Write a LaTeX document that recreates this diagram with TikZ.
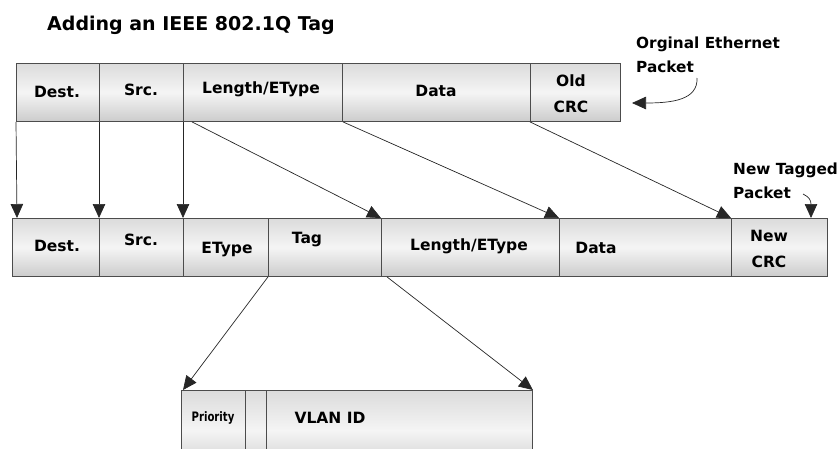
\documentclass[tikz,border=0pt]{standalone}
\usepackage{fontspec}
\setmainfont{DejaVu Sans}
\usetikzlibrary{arrows.meta}
\tikzset{
  cell/.style={draw=black!70, line width=0.9pt, rectangle, inner sep=0pt, anchor=north west,
    top color=black!14, bottom color=black!20, middle color=black!4, shading angle=0},
  lbl/.style={font=\bfseries\fontsize{15.5}{26}\selectfont, inner sep=0pt, text=black},
  small/.style={font=\bfseries\fontsize{13}{15}\selectfont, inner sep=0pt, text=black, xscale=0.78, transform shape},
  conn/.style={draw=black!85, line width=0.7pt, -{Triangle[length=14pt,width=12.5pt]}},
  note/.style={font=\bfseries\fontsize{15.3}{24}\selectfont, inner sep=0pt, anchor=west, align=left, text=black}
}
\newcommand{\mkcell}[5]{\node[cell, minimum width={#3-#2}, minimum height={#5-#4}] (#1) at (#2,#4) {};}
\begin{document}
\begin{tikzpicture}[x=1pt,y=-1pt]
\useasboundingbox (0,0) rectangle (840,448);
\clip (0,0) rectangle (840,448);
% title
\node[font=\bfseries\fontsize{19}{21}\selectfont, inner sep=0pt, anchor=west] (title) at (47,25) {Adding an IEEE 802.1Q Tag};
% original packet
\mkcell{odest}{16}{99}{63}{121}
\mkcell{osrc}{99}{183}{63}{121}
\mkcell{olen}{183}{342}{63}{121}
\mkcell{odata}{342}{530}{63}{121}
\mkcell{ocrc}{530}{620}{63}{121}
\node[lbl] (todest) at (57,92) {Dest.};
\node[lbl] (tosrc) at (141,90) {Src.};
\node[lbl] (tolen) at (261,89) {Length/EType};
\node[lbl] (todata) at (436,91) {Data};
\node[lbl, align=center] (tocrc) at (571,94) {Old\\CRC};
% new packet
\mkcell{ndest}{12}{99}{218}{276}
\mkcell{nsrc}{99}{183}{218}{276}
\mkcell{net}{183}{268}{218}{276}
\mkcell{ntag}{268}{381}{218}{276}
\mkcell{nlen}{381}{559}{218}{276}
\mkcell{ndata}{559}{731}{218}{276}
\mkcell{ncrc}{731}{827}{218}{276}
\node[lbl] (tndest) at (57,246) {Dest.};
\node[lbl] (tnsrc) at (141,240) {Src.};
\node[lbl] (tnet) at (227,250) {EType};
\node[lbl] (tntag) at (307,240) {Tag};
\node[lbl] (tnlen) at (469,246) {Length/EType};
\node[lbl] (tndata) at (596,248) {Data};
\node[lbl, align=center] (tncrc) at (769,249) {New\\CRC};
% tag detail
\mkcell{pri}{181}{245}{390}{470}
\mkcell{cfi}{245}{266}{390}{470}
\mkcell{vid}{266}{532}{390}{470}
\node[small] (tpri) at (213,418) {Priority};
\node[lbl] (tvid) at (330,418) {VLAN ID};
% connectors
\draw[conn] (odest.south west) -- ([xshift=1pt]odest.south west |- ndest.north);
\draw[conn] (osrc.south west) -- (nsrc.north west);
\draw[conn] (olen.south west) -- (net.north west);
\draw[conn] ([xshift=9pt]olen.south west) -- (nlen.north west);
\draw[conn] ([xshift=1pt]odata.south west) -- (ndata.north west);
\draw[conn] (ocrc.south west) -- (ncrc.north west);
\draw[conn] (ntag.south west) -- ([xshift=2pt]pri.north west);
\draw[conn] ([xshift=6pt]nlen.south west) -- (vid.north east);
% notes
\node[note] (orig) at (636,55) {Orginal Ethernet\\Packet};
\coordinate (origfrom) at (697,78);
\coordinate (origto) at (632,103);
\draw[conn] (origfrom) .. controls (698,100) and (672,103) .. (origto);
\node[note] (newt) at (733,181) {New Tagged\\Packet};
\coordinate (newfrom) at (803,194);
\coordinate (newto) at (811,218);
\draw[conn] (newfrom) .. controls (809,197) and (811,200) .. (newto);
\end{tikzpicture}
\end{document}
